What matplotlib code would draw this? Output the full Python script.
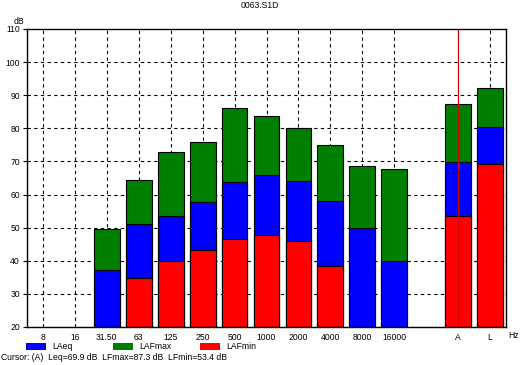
import numpy as np
import matplotlib
matplotlib.use('Agg')
import matplotlib.pyplot as plt
from matplotlib.patches import Rectangle

plt.rcParams['font.family'] = ['Liberation Sans', 'DejaVu Sans']

# Bandes de tercer d'octava + globals A i L
bands = ['8', '16', '31.50', '63', '125', '250', '500', '1000', '2000', '4000',
         '8000', '16000', '', 'A', 'L']
laeq = [np.nan, np.nan, 37.3, 51.2, 53.6, 57.7, 63.7, 65.8, 64.2, 58.0,
        49.8, 40.0, np.nan, 69.9, 80.4]
lafmax = [np.nan, np.nan, 49.7, 64.3, 72.9, 75.9, 86.2, 83.6, 80.2, 75.0,
          68.7, 67.8, np.nan, 87.3, 92.1]
lafmin = [np.nan, np.nan, np.nan, 34.8, 40.0, 43.2, 46.7, 47.9, 46.1, 38.3,
          np.nan, np.nan, np.nan, 53.4, 69.1]
yticks = [20, 30, 40, 50, 60, 70, 80, 90, 100, 110]
cursor_idx = 13
title = '0063.S1D'

W, H = 524, 365
fig = plt.figure(figsize=(W / 100, H / 100), dpi=100)
ax = fig.add_axes([27 / W, 1 - 327 / H, (506 - 27) / W, (327 - 29) / H])

x = np.arange(len(bands))
base = 20
fs = 6.2

def bars(vals, color):
    v = np.array(vals, dtype=float)
    ax.bar(x, v - base, bottom=base, width=0.81, color=color,
           edgecolor='black', linewidth=0.8, zorder=3)

bars(lafmax, '#008000')
bars(laeq, '#0000ff')
bars(lafmin, '#ff0000')

ax.set_xlim(-0.5, 14.5)
ax.set_ylim(20, 110)

# quadrícula discontínua
for yv in yticks[1:-1]:
    ax.axhline(yv, color='black', linestyle=(0, (3, 3)), linewidth=0.8, zorder=1)
for i, b in enumerate(bands):
    if b and i != cursor_idx:
        ax.axvline(i, color='black', linestyle=(0, (3, 3)), linewidth=0.8, zorder=1)

# cursor
ax.axvline(cursor_idx, color='#cc0000', linewidth=0.9, zorder=4)

ax.set_yticks(yticks)
ax.set_yticklabels([str(v) for v in yticks], fontsize=fs)
ax.set_xticks(x)
ax.set_xticklabels(bands, fontsize=fs)
ax.tick_params(axis='x', length=0, pad=4)
ax.tick_params(axis='y', length=3, pad=2, direction='out')
for s in ax.spines.values():
    s.set_linewidth(1.0)
    s.set_zorder(5)

fig.text(260 / W, 1 - 6 / H, title, ha='center', va='center', fontsize=fs)
fig.text(14 / W, 1 - 22 / H, 'dB', ha='left', va='center', fontsize=fs)
fig.text(508 / W, 1 - 336 / H, 'Hz', ha='left', va='center', fontsize=fs)

# llegenda manual
items = [('LAeq', '#0000ff', 26), ('LAFmax', '#008000', 113), ('LAFmin', '#ff0000', 200)]
for lab, col, px in items:
    fig.add_artist(Rectangle((px / W, 1 - 350 / H), 20 / W, 7 / H,
                             transform=fig.transFigure, facecolor=col, edgecolor='none'))
    fig.text((px + 26) / W, 1 - 346.5 / H, lab, ha='left', va='center', fontsize=fs)

fig.text(1 / W, 1 - 358 / H,
         f'Cursor: ({bands[cursor_idx]})  Leq={laeq[cursor_idx]:.1f} dB  '
         f'LFmax={lafmax[cursor_idx]:.1f} dB  LFmin={lafmin[cursor_idx]:.1f} dB',
         ha='left', va='center', fontsize=fs)

fig.savefig('out.png', dpi=100)
